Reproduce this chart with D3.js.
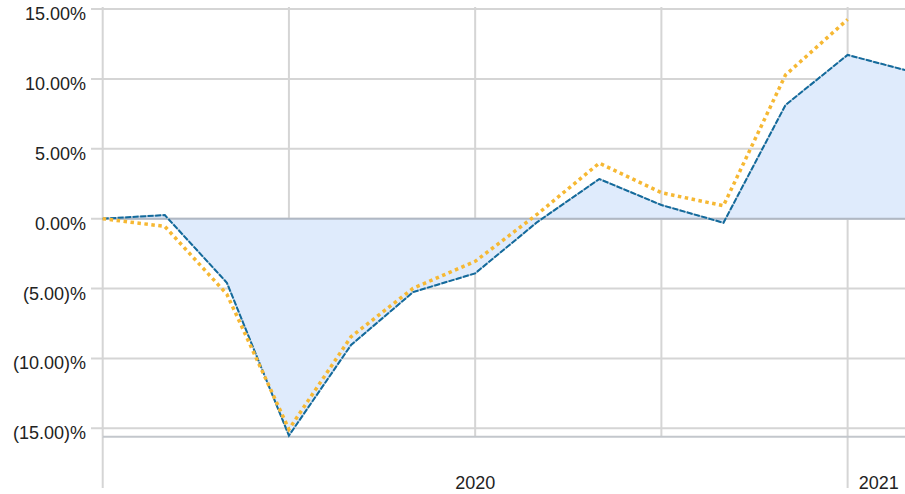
<!DOCTYPE html>
<html>
<head>
<meta charset="utf-8">
<script src="https://cdn.jsdelivr.net/npm/d3@7"></script>
<style>
  html, body { margin: 0; padding: 0; background: #fff; }
  svg { display: block; font-family: "Liberation Sans", Arial, sans-serif; }
</style>
</head>
<body>
<svg id="chart" width="905" height="494"></svg>
<script>
// Month-start observation dates (Jan 2020 .. Feb 2021)
const months = ["2020-01", "2020-02", "2020-03", "2020-04", "2020-05", "2020-06", "2020-07",
                "2020-08", "2020-09", "2020-10", "2020-11", "2020-12", "2021-01", "2021-02"];

// Cumulative return of the portfolio (%), filled area + dashed line
const portfolio = [0, 0.26, -4.58, -15.52, -9.04, -5.25, -3.91, -0.24, 2.84, 0.98, -0.29, 8.14, 11.72, 10.55];

// Cumulative return of the benchmark (%), dotted line (ends Jan 2021)
const benchmark = [0, -0.55, -5.4, -15.07, -8.45, -4.98, -3.05, 0.32, 3.98, 1.86, 0.93, 10.29, 14.26];

// Value-axis ticks (%)
const yTicks = [15, 10, 5, 0, -5, -10, -15];

// Year bands on the time axis: [label, first month index, last month index]
const yearBands = [["2020", 0, 12], ["2021", 12, 13]];

const svg = d3.select("#chart");
const W = 905;
const plotLeft = 102.7, plotRight = 909.7, plotTop = 7, plotBottom = 436.7;

const x = d3.scaleLinear().domain([0, months.length - 1]).range([plotLeft, plotRight]);
const y = d3.scaleLinear().domain([-15.6, 15.15]).range([plotBottom, plotTop]);

const fmt = v => v < 0 ? "(" + d3.format(".2f")(-v) + ")%" : d3.format(".2f")(v) + "%";

const grid = svg.append("g");
// horizontal gridlines with short outer ticks
grid.selectAll("line.h").data(yTicks).join("line")
  .attr("x1", 91).attr("x2", W)
  .attr("y1", d => y(d)).attr("y2", d => y(d))
  .attr("stroke", "#d5d5d5").attr("stroke-width", 2);

// quarterly vertical gridlines
const quarterIdx = d3.range(0, months.length, 3);
grid.selectAll("line.v").data(quarterIdx).join("line")
  .attr("x1", d => x(d)).attr("x2", d => x(d))
  .attr("y1", plotTop).attr("y2", plotBottom)
  .attr("stroke", "#d5d5d5").attr("stroke-width", 2);

// year boundary ticks reaching down to the labels
grid.selectAll("line.yb").data(yearBands.map(b => b[1])).join("line")
  .attr("x1", d => x(d)).attr("x2", d => x(d))
  .attr("y1", plotBottom).attr("y2", 488)
  .attr("stroke", "#d5d5d5").attr("stroke-width", 2);

// area between portfolio and zero
const area = d3.area().x((d, i) => x(i)).y0(y(0)).y1(d => y(d));
svg.append("path").datum(portfolio).attr("d", area).attr("fill", "#dfebfc");

// zero line and bottom baseline
svg.append("line").attr("x1", plotLeft).attr("x2", W).attr("y1", y(0)).attr("y2", y(0))
  .attr("stroke", "#b0b8c4").attr("stroke-width", 2);
svg.append("line").attr("x1", plotLeft).attr("x2", W).attr("y1", plotBottom).attr("y2", plotBottom)
  .attr("stroke", "#c3c7cc").attr("stroke-width", 2);

const line = d3.line().x((d, i) => x(i)).y(d => y(d));

// portfolio line: light underlay + dashed stroke
svg.append("path").datum(portfolio).attr("d", line)
  .attr("fill", "none").attr("stroke", "#a9c1d3").attr("stroke-width", 1.6);
svg.append("path").datum(portfolio).attr("d", line)
  .attr("fill", "none").attr("stroke", "#136a9c").attr("stroke-width", 2)
  .attr("stroke-dasharray", "6,1.5");

// benchmark dotted line
svg.append("path").datum(benchmark).attr("d", line)
  .attr("fill", "none").attr("stroke", "#f6b833").attr("stroke-width", 3.5)
  .attr("stroke-dasharray", "3.5,3.5");

// y-axis labels
svg.append("g").selectAll("text").data(yTicks).join("text")
  .attr("x", 86).attr("y", d => y(d) + 11)
  .attr("text-anchor", "end").attr("font-size", 18).attr("fill", "#222")
  .text(fmt);

// year labels centred on the visible part of each year
svg.append("g").selectAll("text").data(yearBands).join("text")
  .attr("x", d => (x(d[1]) + x(d[2])) / 2)
  .attr("y", 489)
  .attr("text-anchor", "middle").attr("font-size", 18).attr("fill", "#222")
  .text(d => d[0]);
</script>
</body>
</html>
